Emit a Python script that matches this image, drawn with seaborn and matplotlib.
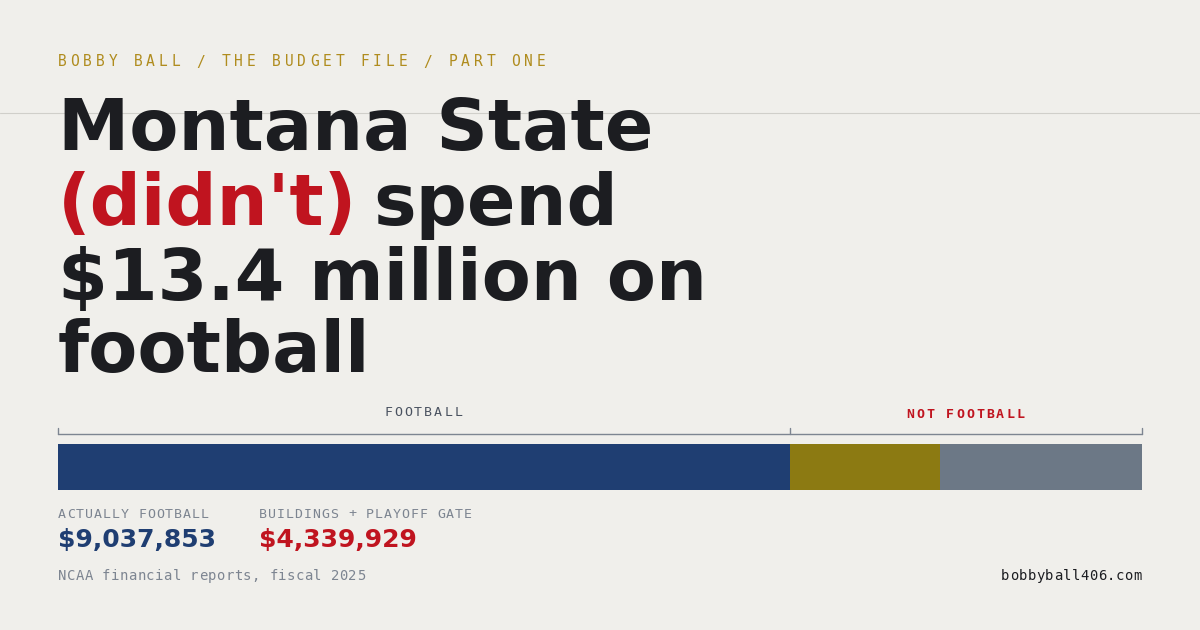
import matplotlib
matplotlib.use("Agg")
import matplotlib.pyplot as plt
import seaborn as sns
import pandas as pd

segments = ["Actually football", "Buildings", "Playoff gate"]
values = [9037853, 1850000, 2489929]
colors = ["#1f3e72", "#8c7a12", "#6c7886"]
football_total = 9037853
not_football_total = 4339929

BG = "#f0efeb"
DARK = "#1c1d21"
RED = "#c0141f"
GOLD = "#b08c1e"
GREY = "#7d8591"

sns.set_theme(style="white")
plt.rcParams["font.family"] = ["DejaVu Sans"]
fig = plt.figure(figsize=(12, 6.3), dpi=100, facecolor=BG)
W, H = 1200, 630
def fx(x): return x / W
def fy(y): return 1 - y / H

def spaced(x, y, s, adv, ha="left", **kw):
    total = adv * len(s)
    if ha == "center":
        x = x - total / 2
    elif ha == "right":
        x = x - total
    for i, ch in enumerate(s):
        fig.text(fx(x + i * adv), fy(y), ch, family="DejaVu Sans Mono", va="center", **kw)

fig.add_artist(plt.Line2D([0, 1], [fy(113), fy(113)], color="#d0cfca", lw=0.8))
spaced(58, 62, "BOBBY BALL / THE BUDGET FILE / PART ONE", 12.6, fontsize=10.5, color=GOLD)

tkw = dict(fontsize=51.5, fontweight="heavy", color=DARK, va="baseline")
fig.text(fx(58), fy(150), "Montana State", **tkw)
t1 = fig.text(fx(58), fy(225), "(didn't)", **{**tkw, "color": RED})
fig.canvas.draw()
bb = t1.get_window_extent()
fig.text(bb.x1 / W + fx(16), fy(225), "spend", **tkw)
fig.text(fx(58), fy(300), "$13.4 million on", **tkw)
fig.text(fx(58), fy(372), "football", **tkw)

ax = fig.add_axes([fx(58), fy(490), fx(1084), 46 / H])
cum = pd.Series(values).cumsum()
for i in reversed(range(3)):
    sns.barplot(x=[cum[i]], y=["a"], color=colors[i], width=1.0, ax=ax, orient="h",
                saturation=1, edgecolor="none")
ax.set_xlim(0, cum.iloc[-1])
ax.axis("off")

total = cum.iloc[-1]
def bpx(v): return 58 + 1084 * v / total
lc = "#7d8591"
yb = fy(434)
fig.add_artist(plt.Line2D([fx(bpx(0)), fx(bpx(total))], [yb, yb], color=lc, lw=1))
for v in [0, football_total, total]:
    fig.add_artist(plt.Line2D([fx(bpx(v)), fx(bpx(v))], [yb, yb + 6 / H], color=lc, lw=1))
spaced((bpx(0) + bpx(football_total)) / 2, 412, "FOOTBALL", 10, ha="center", fontsize=9.5, color="#4a5260")
spaced((bpx(football_total) + bpx(total)) / 2, 415, "NOT FOOTBALL", 10, ha="center", fontsize=9.5,
       color=RED, fontweight="bold")

spaced(58, 514, "ACTUALLY FOOTBALL", 8.9, fontsize=9.5, color=GREY)
spaced(259, 514, "BUILDINGS + PLAYOFF GATE", 8.9, fontsize=9.5, color=GREY)
fig.text(fx(58), fy(540), f"${football_total:,}", fontsize=18, fontweight="heavy", color="#1f3e72", va="center")
fig.text(fx(259), fy(540), f"${not_football_total:,}", fontsize=18, fontweight="heavy", color=RED, va="center")
spaced(58, 576, "NCAA financial reports, fiscal 2025", 8.8, fontsize=10, color=GREY)
spaced(1142, 576, "bobbyball406.com", 8.8, ha="right", fontsize=10, color=DARK)

fig.savefig("out.png", dpi=100, facecolor=BG)
